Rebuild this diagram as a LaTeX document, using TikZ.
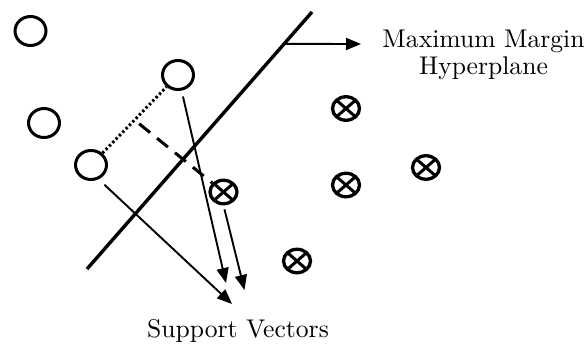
\documentclass[tikz,border=0pt]{standalone}
\usetikzlibrary{arrows.meta,shapes.geometric,calc}
\begin{document}
\begin{tikzpicture}[x=1pt,y=-1pt,
  ring/.style={ellipse, draw, line width=3pt, minimum width=31pt, minimum height=29pt, inner sep=0pt},
  xring/.style={ellipse, draw, line width=3.3pt, minimum width=27pt, minimum height=23.5pt, inner sep=0pt,
    path picture={\draw[line width=3pt]
      (path picture bounding box.north west) -- (path picture bounding box.south east)
      (path picture bounding box.north east) -- (path picture bounding box.south west);}},
  arr/.style={line width=1.9pt, -{Triangle[length=15pt,width=12pt]}},
  plane/.style={line width=3.4pt},
  lbl/.style={scale=2.56, inner sep=0pt, font=\fontsize{10}{12}\selectfont}
]
\useasboundingbox (0,0) rectangle (586,345);

% class one: open circles
\node[ring] (c1) at (30.5,31) {};
\node[ring] (c2) at (178,75) {};
\node[ring] (c3) at (44,123) {};
\node[ring] (c4) at (91,165) {};

% class two: crossed circles
\node[xring] (x1) at (223.5,192) {};
\node[xring] (x2) at (297,261) {};
\node[xring] (x3) at (346,108.5) {};
\node[xring] (x4) at (346,185) {};
\node[xring] (x5) at (426,167.5) {};

% separating hyperplane
\coordinate (h1) at (87,269);
\coordinate (h2) at (312,12);
\draw[plane] (h1) -- (h2);
\path (h1) -- (h2) coordinate[pos=0.876] (hp);

% margin between the support vectors
\draw[line width=3pt, dash pattern=on 2.4pt off 2.4pt] (c4) -- (c2) coordinate[pos=0.5] (m);
\draw[line width=3pt, dash pattern=on 14pt off 9pt, shorten <=6pt] (m) -- (x1);

% labels
\node[lbl, align=center, anchor=north] (mm) at (483.5,29.5) {Maximum Margin\\[-1.5pt]Hyperplane};
\node[lbl, anchor=base] (sv) at (238,337) {Support Vectors};

% pointers
\coordinate (ha) at (361,44);
\draw[arr] (hp) -- (ha);

\coordinate (t1) at (226,283);
\coordinate (t2) at (244.5,290);
\coordinate (t3) at (232,304);
\draw[arr, shorten <=6pt] (c2) -- (t1);
\draw[arr, shorten <=4pt] (x1.south) -- (t2);
\draw[arr, shorten <=8pt] (c4.-62) -- (t3);
\end{tikzpicture}
\end{document}
